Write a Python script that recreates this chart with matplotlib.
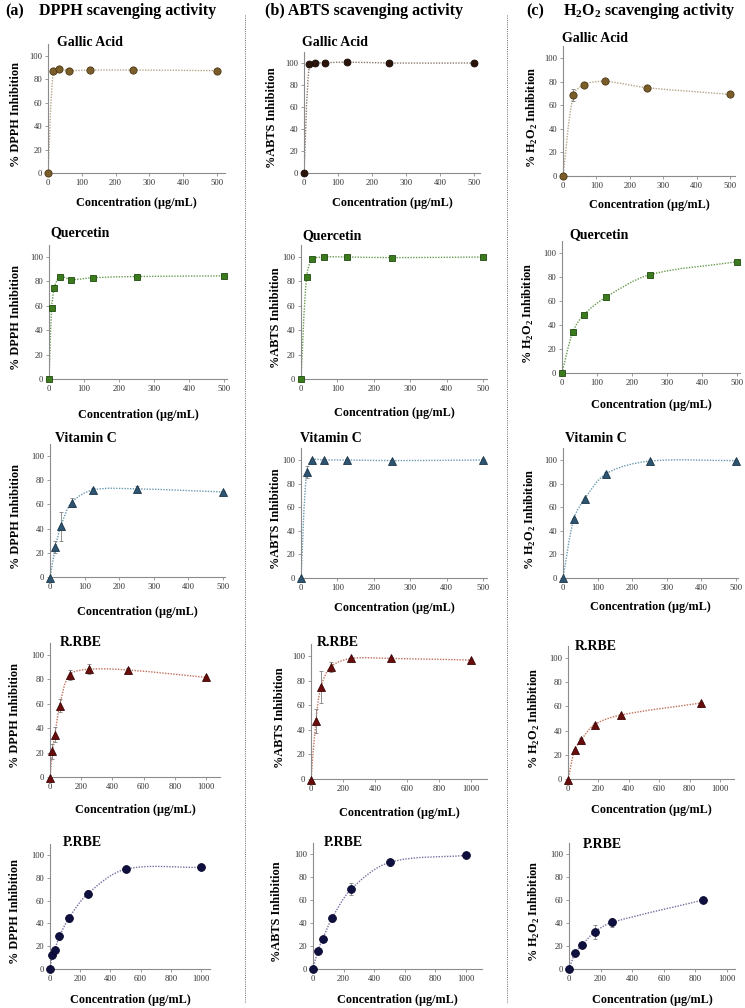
import numpy as np
import matplotlib
matplotlib.use("Agg")
from matplotlib import pyplot as plt
from matplotlib.path import Path
from matplotlib.patches import PathPatch
from matplotlib.lines import Line2D

plt.rcParams['font.family'] = 'Liberation Serif'
plt.rcParams['mathtext.fontset'] = 'custom'
plt.rcParams['mathtext.rm'] = 'Liberation Serif'
plt.rcParams['mathtext.bf'] = 'Liberation Serif:bold'

# ---------------- data ----------------
# (a) DPPH
dpph_gallic_x = [0, 15.6, 31.25, 62.5, 125, 250, 500]
dpph_gallic_y = [0, 87, 88.5, 87.5, 88, 88, 87.5]
dpph_gallic_err = [0, 1, 1, 1, 0.5, 0.5, 0.5]

dpph_querc_x = [0, 7.8, 15.6, 31.25, 62.5, 125, 250, 500]
dpph_querc_y = [0, 58.5, 75, 84, 81.5, 83, 84, 84.5]
dpph_querc_err = [0, 1, 2, 1, 1, 1, 1, 1]

dpph_vitc_x = [0, 15.6, 31.25, 62.5, 125, 250, 500]
dpph_vitc_y = [-1, 24.5, 41.8, 61.5, 72, 72.8, 70.3]
dpph_vitc_err = [0, 5, 12, 4, 1.5, 2, 1]

dpph_rrbe_x = [0, 15.6, 31.25, 62.5, 125, 250, 500, 1000]
dpph_rrbe_y = [-1, 21, 34.6, 58.6, 83.7, 88.3, 87.7, 81.7]
dpph_rrbe_err = [0, 6, 6, 5, 4, 4, 2, 1]

dpph_prbe_x = [0, 15.6, 31.25, 62.5, 125, 250, 500, 1000]
dpph_prbe_y = [0, 12.2, 17, 28.6, 44.6, 66, 87.5, 89.2]
dpph_prbe_err = [0, 1, 2, 3, 3, 3, 1, 1]

# (b) ABTS
abts_gallic_x = [0, 15.6, 31.25, 62.5, 125, 250, 500]
abts_gallic_y = [0, 98.8, 100, 100.2, 100.8, 100, 100]
abts_gallic_err = [0, 0.5, 0.5, 0.5, 0.5, 0.5, 0.5]

abts_querc_x = [0, 15.6, 31.25, 62.5, 125, 250, 500]
abts_querc_y = [0, 84, 98, 100, 100, 99.5, 100]
abts_querc_err = [0, 1, 1, 0.5, 0.5, 0.5, 0.5]

abts_vitc_x = [0, 15.6, 31.25, 62.5, 125, 250, 500]
abts_vitc_y = [0, 90, 100, 100, 100, 99.5, 100]
abts_vitc_err = [0, 5, 1, 0.5, 0.5, 0.5, 0.5]

abts_rrbe_x = [0, 31.25, 62.5, 125, 250, 500, 1000]
abts_rrbe_y = [-1, 47.3, 75, 91.3, 98, 98, 96.7]
abts_rrbe_err = [0, 10, 13, 4, 1, 1, 1]

abts_prbe_x = [0, 31.25, 62.5, 125, 250, 500, 1000]
abts_prbe_y = [0, 15.7, 25.9, 44.2, 69.5, 92.7, 98.8]
abts_prbe_err = [0, 1, 1, 3, 5, 3, 1]

# (c) H2O2
h2o2_gallic_x = [0, 31.25, 62.5, 125, 250, 500]
h2o2_gallic_y = [0, 68.4, 77.4, 80.2, 74.9, 69.2]
h2o2_gallic_err = [0, 5, 1, 1, 1, 1]

h2o2_querc_x = [0, 31.25, 62.5, 125, 250, 500]
h2o2_querc_y = [0, 34.4, 48.6, 63.1, 81.8, 92.7]
h2o2_querc_err = [0, 1, 1, 1, 1, 1]

h2o2_vitc_x = [0, 31.25, 62.5, 125, 250, 500]
h2o2_vitc_y = [0, 50, 67, 88.5, 99, 99.5]
h2o2_vitc_err = [0, 1, 1, 1, 0.5, 0.5]

h2o2_rrbe_x = [0, 43.75, 87.5, 175, 350, 875]
h2o2_rrbe_y = [-1, 24, 32.5, 45, 52.9, 62.8]
h2o2_rrbe_err = [0, 1, 1, 1, 1, 1]

h2o2_prbe_x = [0, 40, 83, 165, 275, 850]
h2o2_prbe_y = [0, 14.2, 20.9, 32.5, 40.6, 60]
h2o2_prbe_err = [0, 1, 3, 6, 4, 1]

titles = ["Gallic Acid", "Quercetin", "Vitamin C", "R.RBE", "P.RBE"]
ylabels = ["% DPPH Inhibition", "%ABTS Inhibition",
           r"% H$_\mathbf{2}$O$_\mathbf{2}$ Inhibition"]
xlabel = "Concentration (\u00b5g/mL)"

series = [
    [(dpph_gallic_x, dpph_gallic_y, dpph_gallic_err),
     (dpph_querc_x, dpph_querc_y, dpph_querc_err),
     (dpph_vitc_x, dpph_vitc_y, dpph_vitc_err),
     (dpph_rrbe_x, dpph_rrbe_y, dpph_rrbe_err),
     (dpph_prbe_x, dpph_prbe_y, dpph_prbe_err)],
    [(abts_gallic_x, abts_gallic_y, abts_gallic_err),
     (abts_querc_x, abts_querc_y, abts_querc_err),
     (abts_vitc_x, abts_vitc_y, abts_vitc_err),
     (abts_rrbe_x, abts_rrbe_y, abts_rrbe_err),
     (abts_prbe_x, abts_prbe_y, abts_prbe_err)],
    [(h2o2_gallic_x, h2o2_gallic_y, h2o2_gallic_err),
     (h2o2_querc_x, h2o2_querc_y, h2o2_querc_err),
     (h2o2_vitc_x, h2o2_vitc_y, h2o2_vitc_err),
     (h2o2_rrbe_x, h2o2_rrbe_y, h2o2_rrbe_err),
     (h2o2_prbe_x, h2o2_prbe_y, h2o2_prbe_err)],
]

# ---------------- styles ----------------
# marker, face, edge, line colour, marker size
row_style = [
    ('o', '#7b5d2a', '#4a3612', '#b5a68a', 5.2),
    ('s', '#3c7a1e', '#1f4a0e', '#6a9a50', 4.6),
    ('^', '#2d5470', '#1a3548', '#6a9ab0', 5.4),
    ('^', '#6a0c0c', '#3a0505', '#c0705a', 6.0),
    ('o', '#101040', '#05052a', '#7a6ea0', 5.6),
]
gallic_abts_style = ('o', '#2b150a', '#1a0c05', '#8a7a70', 5.0)

# layout in pixels: left, right, y at 0, y at 100, x of reference tick (500 / 1000)
layout = [
    [(48, 225, 173, 56, 217), (49, 227, 379, 257, 224), (50, 225, 577, 456, 223),
     (50, 220, 777, 655, 206), (50, 210, 969, 855, 201)],
    [(304, 480, 173, 63, 474), (301, 487, 379, 257, 483), (301, 487, 578, 460, 483),
     (311, 487, 779, 656, 471), (313, 482, 969, 854, 466)],
    [(563, 735, 176, 58, 730), (562, 740, 373, 253, 737), (563, 738, 578, 460, 736),
     (568, 734, 779, 658, 720), (569, 735, 969, 854, 727)],
]
title_pos = [
    [(57, 43), (50, 233), (55, 438), (60, 642), (63, 843)],
    [(302, 42), (302, 236), (300, 438), (317, 642), (324, 842)],
    [(562, 39), (569, 235), (565, 438), (575, 647), (583, 845)],
]
xlabel_y = [[203, 415, 612, 810, 1000], [203, 413, 608, 813, 1000], [205, 405, 607, 810, 1000]]
ylabel_x = [[16, 16, 16, 15, 15], [272, 276, 276, 280, 277], [532, 528, 530, 534, 534]]

W, H = 745, 1008
fig = plt.figure(figsize=(W / 100, H / 100), dpi=100)


def smooth_line(ax, x, y, color):
    pts = ax.transData.transform(np.column_stack([x, y]).astype(float))
    n = len(pts)
    verts = [pts[0]]
    codes = [Path.MOVETO]
    for i in range(n - 1):
        p0 = pts[max(i - 1, 0)]
        p1 = pts[i]
        p2 = pts[i + 1]
        p3 = pts[min(i + 2, n - 1)]
        d01 = np.hypot(*(p1 - p0))
        d12 = np.hypot(*(p2 - p1))
        d23 = np.hypot(*(p3 - p2))
        s1 = d12 / (d01 + d12) if d01 + d12 > 0 else 0
        s2 = d12 / (d12 + d23) if d12 + d23 > 0 else 0
        c1 = p1 + (p2 - p0) * s1 / 3
        c2 = p2 - (p3 - p1) * s2 / 3
        verts += [c1, c2, p2]
        codes += [Path.CURVE4] * 3
    verts = ax.transData.inverted().transform(np.array(verts))
    patch = PathPatch(Path(verts, codes), fill=False, edgecolor=color,
                      lw=1.0, linestyle=(0, (1, 1)), transform=ax.transData,
                      zorder=2)
    ax.add_patch(patch)


for c in range(3):
    for r in range(5):
        left, right, y0, y100, xref_px = layout[c][r]
        top = y0 - 1.1 * (y0 - y100)
        ax = fig.add_axes([left / W, 1 - y0 / H, (right - left) / W, (y0 - top) / H])
        x, y, err = series[c][r]
        xref = 500 if r < 3 else 1000
        ax.set_xlim(0, xref * (right - left) / (xref_px - left))
        ax.set_ylim(0, 110)
        ax.set_xticks(np.arange(0, xref + 1, 100 if r < 3 else 200))
        ax.set_yticks(np.arange(0, 101, 20))
        for s in ['top', 'right']:
            ax.spines[s].set_visible(False)
        for s in ['left', 'bottom']:
            ax.spines[s].set_color('#8c8c8c')
            ax.spines[s].set_linewidth(0.8)
        ax.tick_params(direction='out', length=2.5, width=0.6, colors='#8c8c8c',
                       labelcolor='#333333', labelsize=6.2, pad=1.5)
        ax.patch.set_alpha(0)

        st = gallic_abts_style if (c == 1 and r == 0) else row_style[r]
        mk, face, edge, lcol, ms = st
        smooth_line(ax, x, y, lcol)
        ax.errorbar(x, y, yerr=err, fmt='none', ecolor='#808080', elinewidth=0.6,
                    capsize=1.6, capthick=0.6, zorder=3, clip_on=False)
        ax.plot(x, y, linestyle='none', marker=mk, ms=ms, mfc=face, mec=edge,
                mew=0.6, zorder=4, clip_on=False)

        tx, ty = title_pos[c][r]
        fig.text(tx / W, 1 - ty / H, titles[r], fontsize=10, fontweight='bold',
                 ha='left', va='center')
        fig.text((left + right) / 2 / W, 1 - xlabel_y[c][r] / H, xlabel,
                 fontsize=8.7, fontweight='bold', ha='center', va='center')
        fig.text(ylabel_x[c][r] / W, 1 - (y0 + y100) / 2 / H, ylabels[c],
                 fontsize=8.8, fontweight='bold', rotation=90,
                 ha='center', va='center')

# column headings
fig.text(5 / W, 1 - 11 / H, "(a)", fontsize=11.5, fontweight='bold', va='center')
fig.text(39 / W, 1 - 11 / H, "DPPH scavenging activity", fontsize=11.5,
         fontweight='bold', va='center')
fig.text(265 / W, 1 - 11 / H, "(b) ABTS scavenging activity", fontsize=11.5,
         fontweight='bold', va='center')
fig.text(526 / W, 1 - 11 / H, "(c)", fontsize=11.5, fontweight='bold', va='center')
fig.text(563 / W, 1 - 11 / H, r"H$_\mathbf{2}$O$_\mathbf{2}$ scavenging activity",
         fontsize=11.5, fontweight='bold', va='center')

# dotted separators
for xs in [245, 507]:
    fig.add_artist(Line2D([xs / W, xs / W], [1 - 15 / H, 1 - 1003 / H],
                          transform=fig.transFigure, color='#666666', lw=0.7,
                          linestyle=(0, (1, 1.3))))

fig.savefig("out.png", dpi=100)
